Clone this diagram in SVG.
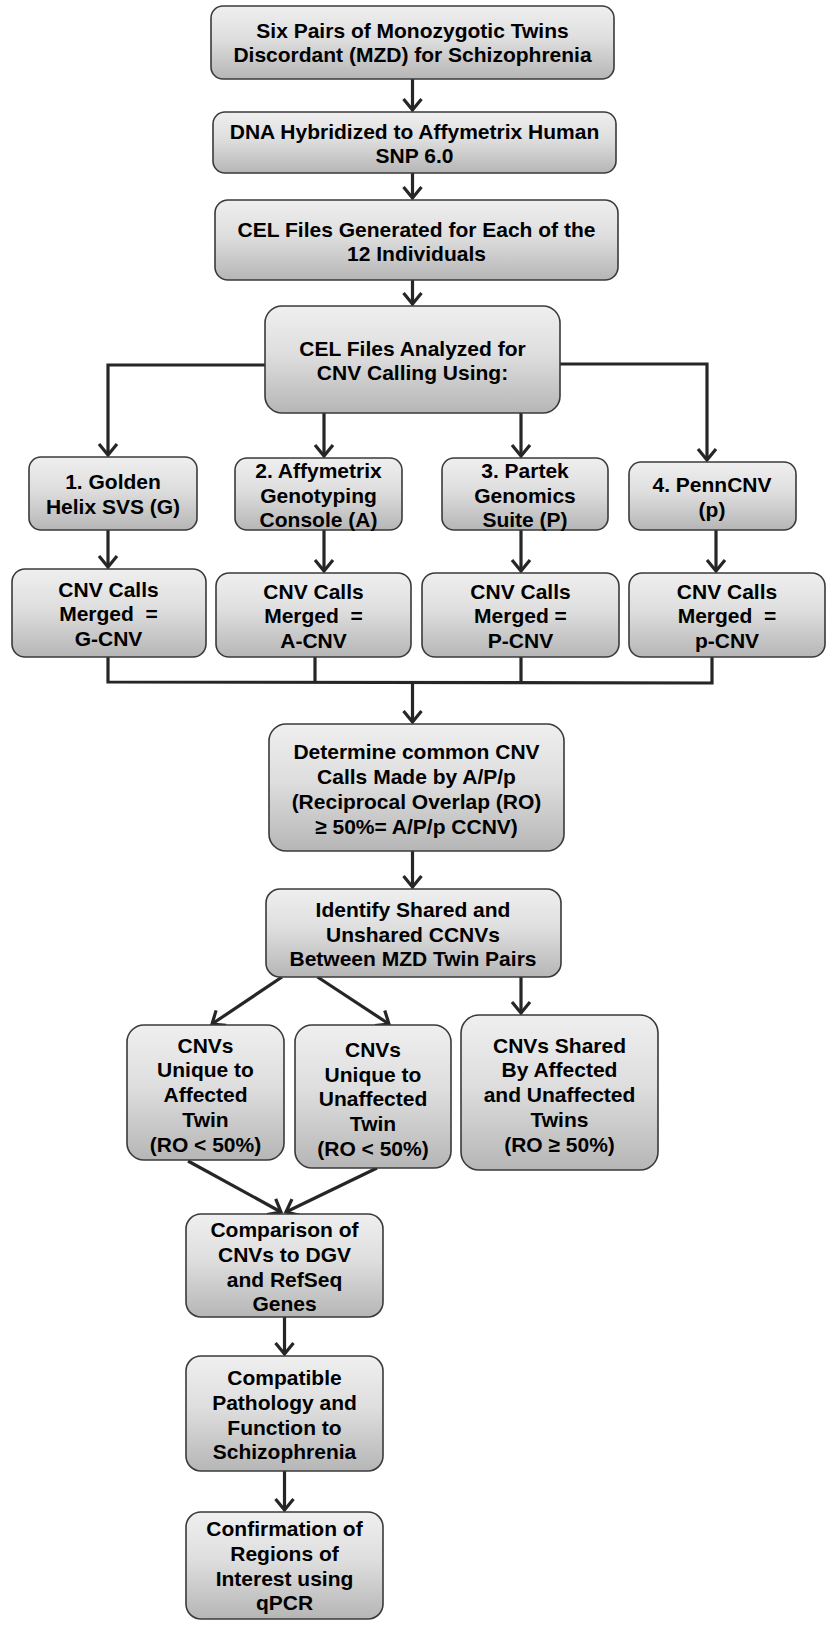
<svg xmlns="http://www.w3.org/2000/svg" width="829" height="1627" viewBox="0 0 829 1627">
<defs>
<linearGradient id="g" x1="0" y1="0" x2="0" y2="1">
<stop offset="0" stop-color="#efefef"/>
<stop offset="0.45" stop-color="#dedede"/>
<stop offset="1" stop-color="#b6b6b6"/>
</linearGradient>
<marker id="ah" markerUnits="userSpaceOnUse" viewBox="0 0 16 22" markerWidth="16" markerHeight="22" refX="13" refY="11" orient="auto" overflow="visible">
<path d="M2,2 L13,11 L2,20" fill="none" stroke="#262626" stroke-width="3.2" stroke-linejoin="miter"/>
</marker>
<style>
.b{fill:url(#g);stroke:#3a3a3a;stroke-width:1.6}
.t{font-family:"Liberation Sans",Arial,sans-serif;font-weight:bold;font-size:21px;fill:#000;text-anchor:middle;white-space:pre}
.c{fill:none;stroke:#262626;stroke-width:3.2}
.a{marker-end:url(#ah)}
</style>
</defs>
<g id="connectors">
<line class="c a" x1="412.5" y1="79" x2="412.5" y2="110"/>
<line class="c a" x1="412.5" y1="173" x2="412.5" y2="198"/>
<line class="c a" x1="412.5" y1="280" x2="412.5" y2="304"/>
<polyline class="c a" points="265,365 108,365 108,455"/>
<polyline class="c a" points="560,364 707,364 707,460"/>
<line class="c a" x1="324" y1="413" x2="324" y2="456"/>
<line class="c a" x1="521" y1="413" x2="521" y2="456"/>
<line class="c a" x1="108" y1="530" x2="108" y2="567"/>
<line class="c a" x1="324" y1="530" x2="324" y2="571"/>
<line class="c a" x1="521" y1="530" x2="521" y2="571"/>
<line class="c a" x1="716" y1="530" x2="716" y2="571"/>
<polyline class="c" points="108,657 108,682 712,683 712,657"/>
<line class="c" x1="315" y1="657" x2="315" y2="682"/>
<line class="c" x1="521" y1="657" x2="521" y2="682"/>
<line class="c a" x1="412.5" y1="682" x2="412.5" y2="722"/>
<line class="c a" x1="412.5" y1="851" x2="412.5" y2="887"/>
<line class="c a" x1="282" y1="977" x2="212" y2="1024"/>
<line class="c a" x1="317.5" y1="977" x2="389" y2="1024"/>
<line class="c a" x1="521" y1="977" x2="521" y2="1013"/>
<line class="c a" x1="188" y1="1161" x2="281" y2="1212"/>
<line class="c a" x1="377" y1="1168" x2="286" y2="1212"/>
<line class="c a" x1="284.5" y1="1317" x2="284.5" y2="1354"/>
<line class="c a" x1="284.5" y1="1471" x2="284.5" y2="1510"/>
</g>
<g id="n1"><rect class="b" x="211" y="6" width="403" height="73" rx="12"/>
<text class="t" x="412.5" y="38">Six Pairs of Monozygotic Twins</text>
<text class="t" x="412.5" y="62">Discordant (MZD) for Schizophrenia</text></g>
<g id="n2"><rect class="b" x="213" y="112" width="403" height="61" rx="12"/>
<text class="t" x="414.5" y="139">DNA Hybridized to Affymetrix Human</text>
<text class="t" x="414.5" y="163">SNP 6.0</text></g>
<g id="n3"><rect class="b" x="215" y="200" width="403" height="80" rx="13"/>
<text class="t" x="416.5" y="236.5">CEL Files Generated for Each of the</text>
<text class="t" x="416.5" y="261">12 Individuals</text></g>
<g id="n4"><rect class="b" x="265" y="306" width="295" height="107" rx="17"/>
<text class="t" x="412.5" y="355.5">CEL Files Analyzed for</text>
<text class="t" x="412.5" y="379.5">CNV Calling Using:</text></g>
<g id="n5"><rect class="b" x="29" y="457" width="168" height="73" rx="12"/>
<text class="t" x="113" y="489">1. Golden</text>
<text class="t" x="113" y="513.5">Helix SVS (G)</text></g>
<g id="n6"><rect class="b" x="235" y="458" width="167" height="72" rx="12"/>
<text class="t" x="318.5" y="478">2. Affymetrix</text>
<text class="t" x="318.5" y="502.5">Genotyping</text>
<text class="t" x="318.5" y="526.5">Console (A)</text></g>
<g id="n7"><rect class="b" x="442" y="458" width="166" height="72" rx="12"/>
<text class="t" x="525" y="478">3. Partek</text>
<text class="t" x="525" y="502.5">Genomics</text>
<text class="t" x="525" y="526.5">Suite (P)</text></g>
<g id="n8"><rect class="b" x="629" y="462" width="167" height="68" rx="12"/>
<text class="t" x="712" y="491.5">4. PennCNV</text>
<text class="t" x="712" y="516.5">(p)</text></g>
<g id="n9"><rect class="b" x="12" y="569" width="194" height="88" rx="13"/>
<text class="t" x="108.5" y="596.5">CNV Calls</text>
<text class="t" x="108.5" y="620.5">Merged  =</text>
<text class="t" x="108.5" y="645.5">G-CNV</text></g>
<g id="n10"><rect class="b" x="216" y="573" width="195" height="84" rx="13"/>
<text class="t" x="313.5" y="598.5">CNV Calls</text>
<text class="t" x="313.5" y="623">Merged  =</text>
<text class="t" x="313.5" y="647.5">A-CNV</text></g>
<g id="n11"><rect class="b" x="422" y="573" width="197" height="84" rx="13"/>
<text class="t" x="520.5" y="598.5">CNV Calls</text>
<text class="t" x="520.5" y="623">Merged =</text>
<text class="t" x="520.5" y="647.5">P-CNV</text></g>
<g id="n12"><rect class="b" x="629" y="573" width="196" height="84" rx="13"/>
<text class="t" x="727" y="598.5">CNV Calls</text>
<text class="t" x="727" y="623">Merged  =</text>
<text class="t" x="727" y="647.5">p-CNV</text></g>
<g id="n13"><rect class="b" x="269" y="724" width="295" height="127" rx="17"/>
<text class="t" x="416.5" y="759">Determine common CNV</text>
<text class="t" x="416.5" y="784">Calls Made by A/P/p</text>
<text class="t" x="416.5" y="809">(Reciprocal Overlap (RO)</text>
<text class="t" x="416.5" y="833.5">≥ 50%= A/P/p CCNV)</text></g>
<g id="n14"><rect class="b" x="266" y="889" width="295" height="88" rx="14"/>
<text class="t" x="413" y="916.5">Identify Shared and</text>
<text class="t" x="413" y="941.5">Unshared CCNVs</text>
<text class="t" x="413" y="965.5">Between MZD Twin Pairs</text></g>
<g id="n15"><rect class="b" x="127" y="1025" width="157" height="135" rx="17"/>
<text class="t" x="205.5" y="1052.5">CNVs</text>
<text class="t" x="205.5" y="1076.5">Unique to</text>
<text class="t" x="205.5" y="1101.5">Affected</text>
<text class="t" x="205.5" y="1126.5">Twin</text>
<text class="t" x="205.5" y="1151.5">(RO &lt; 50%)</text></g>
<g id="n16"><rect class="b" x="295" y="1025" width="156" height="143" rx="17"/>
<text class="t" x="373" y="1056.5">CNVs</text>
<text class="t" x="373" y="1081.5">Unique to</text>
<text class="t" x="373" y="1105.5">Unaffected</text>
<text class="t" x="373" y="1130.5">Twin</text>
<text class="t" x="373" y="1155.5">(RO &lt; 50%)</text></g>
<g id="n17"><rect class="b" x="461" y="1015" width="197" height="155" rx="18"/>
<text class="t" x="559.5" y="1052.5">CNVs Shared</text>
<text class="t" x="559.5" y="1076.5">By Affected</text>
<text class="t" x="559.5" y="1101.5">and Unaffected</text>
<text class="t" x="559.5" y="1126.5">Twins</text>
<text class="t" x="559.5" y="1151.5">(RO ≥ 50%)</text></g>
<g id="n18"><rect class="b" x="186" y="1214" width="197" height="103" rx="15"/>
<text class="t" x="284.5" y="1236.5">Comparison of</text>
<text class="t" x="284.5" y="1261.5">CNVs to DGV</text>
<text class="t" x="284.5" y="1286.5">and RefSeq</text>
<text class="t" x="284.5" y="1310.5">Genes</text></g>
<g id="n19"><rect class="b" x="186" y="1356" width="197" height="115" rx="15"/>
<text class="t" x="284.5" y="1384.5">Compatible</text>
<text class="t" x="284.5" y="1409.5">Pathology and</text>
<text class="t" x="284.5" y="1434.5">Function to</text>
<text class="t" x="284.5" y="1458.5">Schizophrenia</text></g>
<g id="n20"><rect class="b" x="186" y="1512" width="197" height="107" rx="15"/>
<text class="t" x="284.5" y="1535.5">Confirmation of</text>
<text class="t" x="284.5" y="1560.5">Regions of</text>
<text class="t" x="284.5" y="1585.5">Interest using</text>
<text class="t" x="284.5" y="1609.5">qPCR</text></g>
</svg>
